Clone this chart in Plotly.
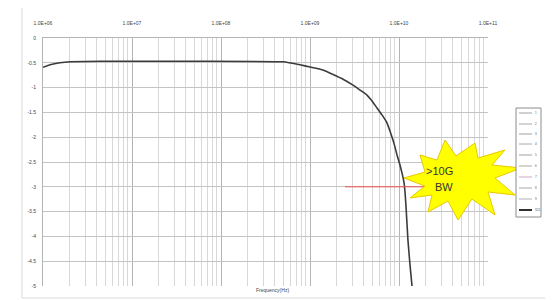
import plotly.graph_objects as go

# ---- data ----
freq_hz = [1.0e6, 1.2e6, 1.55e6, 2.0e6, 4.4e6, 5.8e7, 5.0e8, 7.7e8, 1.0e9, 1.4e9,
           2.35e9, 3.04e9, 3.65e9, 4.37e9, 4.98e9, 5.66e9, 6.44e9, 7.33e9, 7.93e9,
           8.57e9, 9.02e9, 9.5e9, 1.026e10, 1.08e10, 1.14e10, 1.17e10,
           1.2e10, 1.26e10, 1.33e10, 1.40e10]
s21_db = [-0.59, -0.54, -0.50, -0.48, -0.47, -0.47, -0.48, -0.54, -0.585, -0.645,
          -0.83, -0.95, -1.05, -1.15, -1.27, -1.41, -1.55, -1.71, -1.88,
          -2.06, -2.20, -2.36, -2.56, -2.72, -2.92, -3.12,
          -3.41, -4.07, -4.58, -5.0]
x_tickvals = [1e6, 1e7, 1e8, 1e9, 1e10, 1e11]
x_ticktext = ["1.0E+06", "1.0E+07", "1.0E+08", "1.0E+09", "1.0E+10", "1.0E+11"]
y_tickvals = [0, -0.5, -1, -1.5, -2, -2.5, -3, -3.5, -4, -4.5, -5]
y_ticktext = ["0", "-0.5", "-1", "-1.5", "-2", "-2.5", "-3", "-3.5", "-4", "-4.5", "-5"]
legend_names = ["1", "2", "3", "4", "5", "6", "7", "8", "9", "S21"]
bw_level_db = -3

# page body has an 8px default margin; work in window pixels and shift
O = 8
W, H = 553 - O, 300 - O
L, R, T, B = 43 - O, 488 - O, 38 - O, 286 - O


def px(x):
    return (x - O - L) / (R - L)


def py(y):
    return (B - (y - O)) / (B - T)


fig = go.Figure()
fig.add_trace(go.Scatter(x=freq_hz, y=s21_db, mode="lines", name="S21",
                         line=dict(color="#3c3c3c", width=1.6, shape="spline", smoothing=0.3),
                         showlegend=False))

shapes = []
# outer chart border
shapes.append(dict(type="rect", xref="paper", yref="paper", x0=px(22), x1=px(548),
                   y0=py(298), y1=py(4), line=dict(color="#d9d9d9", width=1), layer="below"))
# -3 dB marker line
shapes.append(dict(type="line", xref="paper", yref="y", x0=px(345), x1=px(500),
                   y0=bw_level_db, y1=bw_level_db, line=dict(color="#f05050", width=1)))
# explosion star
star = [(404, 178), (425, 172), (420, 155), (437, 160), (445, 140), (456, 156),
        (475, 143), (478, 158), (505, 150), (492, 165), (521, 168), (495, 178),
        (515, 195), (488, 192), (495, 215), (472, 199), (458, 220), (448, 201),
        (428, 212), (432, 195), (410, 198), (425, 186)]
path = "M " + " L ".join(f"{px(a):.4f},{py(b):.4f}" for a, b in star) + " Z"
shapes.append(dict(type="path", xref="paper", yref="paper", path=path,
                   fillcolor="#ffff00", line=dict(color="#e8c800", width=1)))
# legend box
shapes.append(dict(type="rect", xref="paper", yref="paper", x0=px(516), x1=px(541),
                   y0=py(217), y1=py(108), line=dict(color="#8c8c8c", width=1),
                   fillcolor="white"))
annotations = []
leg_y = [113, 124, 134, 144, 155, 166, 177, 188, 199, 210]
leg_col = ["#a0a0a0", "#a8a8a8", "#a0a0a0", "#a8a8a8", "#a0a0a0", "#a8a8a8",
           "#c8a8c8", "#a8a8a8", "#b0b0b0", "#303030"]
for name, yy, c in zip(legend_names, leg_y, leg_col):
    shapes.append(dict(type="line", xref="paper", yref="paper", x0=px(519), x1=px(532),
                       y0=py(yy), y1=py(yy),
                       line=dict(color=c, width=2 if name == "S21" else 1)))
    annotations.append(dict(xref="paper", yref="paper", x=px(533), y=py(yy), text=name,
                            showarrow=False, xanchor="left", yanchor="middle",
                            font=dict(size=3, color="#555555")))

annotations.append(dict(xref="paper", yref="paper", x=px(455), y=py(171), text="&gt;10G",
                        showarrow=False, font=dict(size=11, color="#333333",
                                                   family="Liberation Sans")))
annotations.append(dict(xref="paper", yref="paper", x=px(455), y=py(187), text="BW",
                        showarrow=False, font=dict(size=11, color="#333333",
                                                   family="Liberation Sans")))
annotations.append(dict(xref="paper", yref="paper", x=px(272), y=py(295),
                        text="Frequency(Hz)", showarrow=False,
                        font=dict(size=5, color="#444444", family="Liberation Sans")))

fig.update_layout(
    width=W, height=H,
    margin=dict(l=L, r=W - R, t=T, b=H - B, pad=0),
    paper_bgcolor="white", plot_bgcolor="white",
    shapes=shapes, annotations=annotations, showlegend=False,
    font=dict(family="Liberation Sans", size=5, color="#444444"),
    xaxis=dict(type="log", range=[6, 11], side="top", tickvals=x_tickvals,
               ticktext=x_ticktext, ticks="outside", ticklen=10,
               tickcolor="rgba(0,0,0,0)", showgrid=True, gridcolor="#b4b4b4",
               gridwidth=1, showline=True, linecolor="#b4b4b4", zeroline=False,
               minor=dict(dtick="D1", showgrid=True, gridcolor="#d8d8d8", gridwidth=1),
               tickfont=dict(size=5, color="#444444")),
    yaxis=dict(range=[-5, 0], tickvals=y_tickvals, ticktext=y_ticktext,
               ticks="outside", ticklen=5, tickcolor="rgba(0,0,0,0)",
               showgrid=True, gridcolor="#c4c4c4", gridwidth=1, showline=True,
               linecolor="#b4b4b4", mirror=False, zeroline=False,
               tickfont=dict(size=5, color="#444444")),
)

fig.write_html("out.html")
